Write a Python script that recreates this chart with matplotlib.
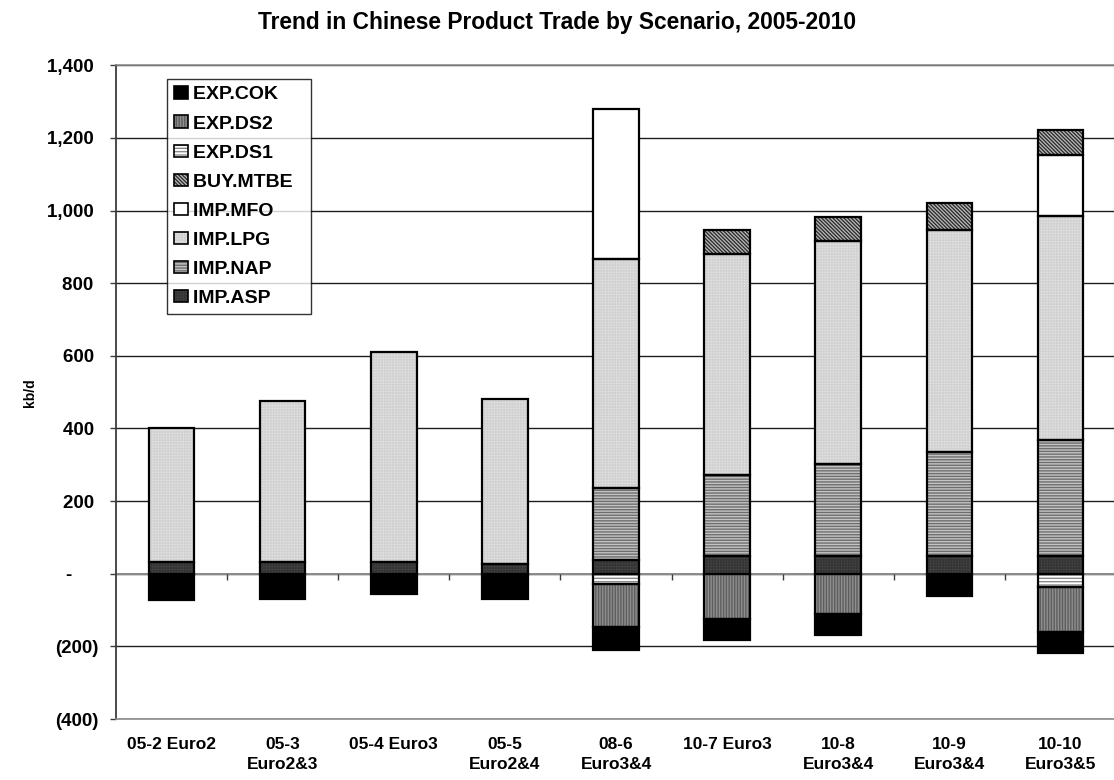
import numpy as np
import matplotlib
matplotlib.use("Agg")
import matplotlib.pyplot as plt
from matplotlib.patches import Patch
from matplotlib.legend_handler import HandlerTuple
from matplotlib.ticker import FuncFormatter, MultipleLocator

plt.rcParams["font.family"] = ["Liberation Sans", "DejaVu Sans"]
plt.rcParams["font.weight"] = "bold"
plt.rcParams["hatch.linewidth"] = 1.0

# ---- data (kb/d) ----
scenarios = ["05-2 Euro2", "05-3\nEuro2&3", "05-4 Euro3", "05-5\nEuro2&4",
             "08-6\nEuro3&4", "10-7 Euro3", "10-8\nEuro3&4", "10-9\nEuro3&4",
             "10-10\nEuro3&5"]

imp_asp = [31, 31, 31, 28, 39, 49, 50, 50, 50]
imp_nap = [0, 0, 0, 0, 197, 223, 252, 285, 318]
imp_lpg = [369, 445, 579, 452, 632, 608, 614, 611, 617]
imp_mfo = [0, 0, 0, 0, 411, 0, 0, 0, 167]
buy_mtbe = [0, 0, 0, 0, 0, 66, 67, 75, 71]
exp_ds1 = [0, 0, 0, 0, -28, 0, 0, 0, -36]
exp_ds2 = [0, 0, 0, 0, -120, -125, -110, 0, -124]
exp_cok = [-72, -70, -56, -70, -62, -58, -60, -60, -59]

# series: name, values, face colour, hatch, hatch colour
positive_series = [
    ("IMP.ASP", imp_asp, "#4a4a4a", "++++++", "#353535"),
    ("IMP.NAP", imp_nap, "#c4c4c4", "------", "#6e6e6e"),
    ("IMP.LPG", imp_lpg, "#e6e6e6", "++++++", "#d2d2d2"),
    ("IMP.MFO", imp_mfo, "#ffffff", "", "#ffffff"),
    ("BUY.MTBE", buy_mtbe, "#bdbdbd", "\\" * 9, "#2e2e2e"),
]
negative_series = [
    ("EXP.DS1", exp_ds1, "#ffffff", "-----", "#8a8a8a"),
    ("EXP.DS2", exp_ds2, "#8e8e8e", "||||||", "#5e5e5e"),
    ("EXP.COK", exp_cok, "#000000", "", "#000000"),
]

x = np.arange(len(scenarios))
width = 0.41

fig = plt.figure(figsize=(11.14, 7.8), dpi=100)
ax = fig.add_axes([116 / 1114, 61 / 780, 1000 / 1114, 653.7 / 780])

handles = {}


def draw_stack(series_list):
    base = np.zeros(len(x))
    for name, vals, face, hatch, hcol in series_list:
        vals = np.asarray(vals, dtype=float)
        mask = vals != 0
        ax.bar(x[mask], vals[mask], width, bottom=base[mask], color=face,
               hatch=hatch, edgecolor=hcol, linewidth=0, zorder=2)
        ax.bar(x[mask], vals[mask], width, bottom=base[mask], fill=False,
               edgecolor="black", linewidth=1.6, zorder=3)
        handles[name] = (Patch(facecolor=face, hatch=hatch, edgecolor=hcol,
                               linewidth=0),
                         Patch(fill=False, edgecolor="black", linewidth=1.2))
        base = base + vals


draw_stack(positive_series)
draw_stack(negative_series)

# axes limits and grid
ax.set_xlim(-0.5, len(x) - 0.5)
ax.set_ylim(-400, 1400)
ax.yaxis.set_major_locator(MultipleLocator(200))
ax.set_axisbelow(True)
ax.yaxis.grid(True, color="#1e1e1e", linewidth=1.0, zorder=0)
ax.xaxis.grid(False)


def fmt(v, pos):
    if abs(v) < 1e-9:
        return "-     "
    if v < 0:
        return "({:,.0f})".format(-v)
    return "{:,.0f} ".format(v)


ax.yaxis.set_major_formatter(FuncFormatter(fmt))

ax.spines["right"].set_visible(False)
for s in ["top", "bottom"]:
    ax.spines[s].set_color("#8c8c8c")
    ax.spines[s].set_linewidth(1.2)
ax.spines["left"].set_color("#3c3c3c")
ax.spines["left"].set_linewidth(1.3)

ax.tick_params(axis="y", direction="out", length=4.3, width=1.0,
               color="#3c3c3c", labelsize=13.5, pad=8)
ax.set_xticks(x)
ax.set_xticklabels(scenarios, fontsize=12.5, fontweight="bold",
                   linespacing=1.4)
ax.tick_params(axis="x", length=0, pad=13)

# category axis line at zero with boundary tick marks
ax.axhline(0, color="#8c8c8c", linewidth=1.4, zorder=1)
bounds = np.arange(len(x) + 1) - 0.5
ax.vlines(bounds[1:-1], -16.5, 0, color="#3c3c3c", linewidth=1.0, zorder=1)

ax.yaxis.set_label_coords(-0.079, 0.5)
ax.set_ylabel("kb/d", fontsize=10, fontweight="bold")

fig.text(0.5, 1 - 22 / 780, "Trend in Chinese Product Trade by Scenario, 2005-2010",
         ha="center", va="center", fontsize=16.4, fontweight="bold")

order = ["EXP.COK", "EXP.DS2", "EXP.DS1", "BUY.MTBE", "IMP.MFO", "IMP.LPG",
         "IMP.NAP", "IMP.ASP"]
leg = ax.legend([handles[n] for n in order], [n + "  " for n in order],
                handler_map={tuple: HandlerTuple(ndivide=1)},
                loc="upper left", bbox_to_anchor=(0.051, 0.979),
                fontsize=14, frameon=True, fancybox=False, shadow=False,
                handlelength=0.68, handleheight=0.6, handletextpad=0.3,
                labelspacing=0.62, borderpad=0.38, borderaxespad=0)
leg.get_frame().set_edgecolor("black")
leg.get_frame().set_linewidth(1.0)
leg.set_zorder(5)

fig.savefig("out.png", dpi=100)
